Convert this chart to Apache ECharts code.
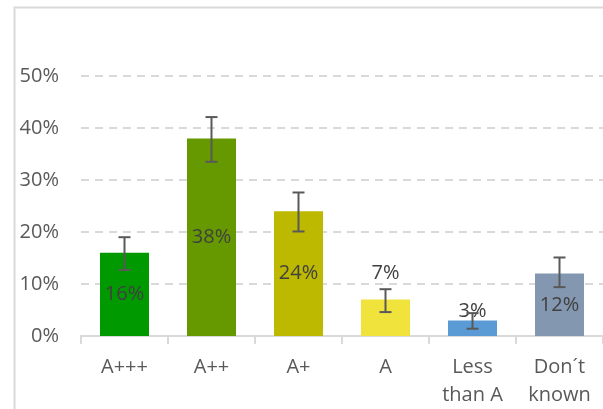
<!DOCTYPE html>
<html>
<head>
<meta charset="utf-8">
<script src="https://cdn.jsdelivr.net/npm/echarts@6/dist/echarts.min.js"></script>
<style>
html,body{margin:0;padding:0;background:#fff;}
#chart{width:603px;height:409px;}
</style>
</head>
<body>
<div id="chart"></div>
<script>
var categories = ['A+++', 'A++', 'A+', 'A', 'Less\nthan A', 'Don\u00b4t\nknown'];
var values = [16, 38, 24, 7, 3, 12];
var errLow = [12.7, 33.5, 20.1, 4.6, 1.4, 9.4];
var errHigh = [19.0, 42.1, 27.6, 9.0, 4.4, 15.1];
var colors = ['#009900', '#669900', '#BDB800', '#F0E43C', '#5B9BD5', '#8497B0'];
var yTicks = [0, 10, 20, 30, 40, 50];

var FONT = '"Open Sans", "Noto Sans", sans-serif';
var chart = echarts.init(document.getElementById('chart'), null, {renderer: 'canvas'});

var barData = values.map(function (v, i) {
  var item = { value: v, itemStyle: { color: colors[i] } };
  if (i === 3) item.label = { position: 'top', distance: 16 };
  if (i === 4) item.label = { position: 'top', distance: -1 };
  return item;
});

var option = {
  animation: false,
  backgroundColor: '#ffffff',
  graphic: [{
    type: 'rect',
    shape: { x: 14.5, y: 7.5, width: 700, height: 500 },
    style: { fill: 'none', stroke: '#d9d9d9', lineWidth: 2 },
    silent: true,
    z: -10
  }],
  grid: { left: 81, right: 0, top: 76, bottom: 73, containLabel: false },
  xAxis: {
    type: 'category',
    data: categories,
    boundaryGap: true,
    axisLine: { lineStyle: { color: '#d9d9d9', width: 2 } },
    axisTick: { show: true, length: 8, alignWithLabel: false, lineStyle: { color: '#d9d9d9', width: 2 } },
    axisLabel: { color: '#595959', fontFamily: FONT, fontSize: 20, lineHeight: 28, margin: 17, interval: 0 }
  },
  yAxis: {
    type: 'value',
    min: yTicks[0],
    max: yTicks[yTicks.length - 1],
    interval: 10,
    axisLine: { show: false },
    axisTick: { show: false },
    axisLabel: { color: '#595959', fontFamily: FONT, fontSize: 20, margin: 22, formatter: '{value}%' },
    splitLine: { lineStyle: { color: '#d9d9d9', width: 2, type: [8, 6] } }
  },
  series: [{
    type: 'bar',
    data: barData,
    barWidth: 49,
    label: {
      show: true,
      position: 'inside',
      formatter: '{c}%',
      color: '#404040',
      fontFamily: FONT,
      fontSize: 20,
      lineHeight: 20
    },
    z: 2
  }, {
    type: 'custom',
    data: errLow.map(function (lo, i) { return [i, lo, errHigh[i]]; }),
    renderItem: function (params, api) {
      var x = api.value(0);
      var lo = api.coord([x, api.value(1)]);
      var hi = api.coord([x, api.value(2)]);
      var hw = 6;
      var st = { stroke: '#595959', lineWidth: 2, fill: 'none' };
      return {
        type: 'group',
        children: [
          { type: 'line', shape: { x1: lo[0], y1: lo[1], x2: hi[0], y2: hi[1] }, style: st },
          { type: 'line', shape: { x1: lo[0] - hw, y1: lo[1], x2: lo[0] + hw, y2: lo[1] }, style: st },
          { type: 'line', shape: { x1: hi[0] - hw, y1: hi[1], x2: hi[0] + hw, y2: hi[1] }, style: st }
        ]
      };
    },
    z: 3
  }]
};
chart.setOption(option);
</script>
</body>
</html>
